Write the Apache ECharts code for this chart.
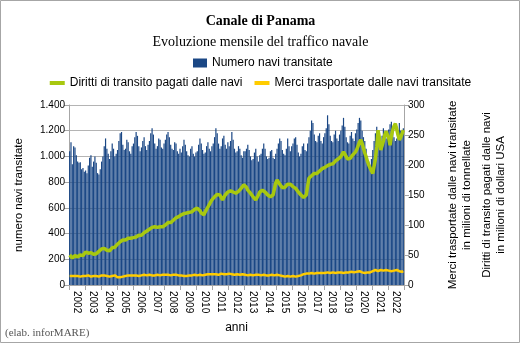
<!DOCTYPE html>
<html><head><meta charset="utf-8">
<script src="https://cdn.jsdelivr.net/npm/echarts@6/dist/echarts.min.js"></script>
<style>html,body{margin:0;padding:0;background:#fff}#c{width:521px;height:345px}</style>
</head><body><div id="c"></div>
<script>
const years = ['2002','2003','2004','2005','2006','2007','2008','2009','2010','2011','2012','2013','2014','2015','2016','2017','2018','2019','2020','2021','2022'];

const ships = [
1040,1110,940,1080,1070,1010,960,950,955,900,910,880,
890,870,930,990,1010,920,960,1000,950,870,860,900,
960,1000,1080,1140,1060,1020,980,1040,1100,1060,1000,1020,
1050,1120,1180,1190,1090,1050,1060,1130,1110,1040,1020,1080,
1100,1150,1190,1160,1080,1040,1070,1120,1150,1080,1050,1090,
1120,1180,1220,1170,1100,1060,1080,1140,1130,1070,1060,1100,
1130,1170,1190,1150,1090,1060,1050,1110,1100,1040,1020,1060,
1030,1080,1130,1090,1040,1010,1000,1060,1080,1020,1000,1030,
1040,1090,1140,1100,1050,1020,1030,1080,1110,1060,1040,1080,
1100,1150,1220,1180,1100,1060,1080,1140,1160,1090,1060,1110,
1080,1120,1190,1130,1060,1030,1040,1080,1060,1010,990,1040,
1040,1060,1090,1050,1000,970,980,1030,1060,1000,960,1010,
1020,1060,1100,1060,1000,980,990,1040,1050,990,980,1020,
1060,1100,1140,1120,1050,1020,1010,1060,1140,1080,1040,1080,
1100,1140,1150,1090,1030,1000,1020,1080,1100,1050,1040,1100,
1150,1200,1280,1260,1170,1120,1110,1160,1180,1120,1100,1150,
1180,1220,1320,1250,1160,1120,1110,1170,1200,1140,1120,1170,
1200,1240,1300,1230,1150,1110,1100,1160,1190,1140,1120,1180,
1210,1260,1300,1280,1200,1150,1120,1060,1000,960,930,980,
1050,1120,1180,1230,1200,1140,1110,1160,1220,1180,1140,1190,
1210,1250,1270,1220,1150,1120,1140,1200,1260,1200,1160,1220
];

const tolls = [
50,48,45,47,49,46,47,48,50,47,49,52,
55,54,53,52,54,53,51,50,52,54,56,58,
60,62,61,59,58,60,57,58,62,64,63,66,
68,70,72,74,75,76,75,77,78,76,78,80,
79,81,80,82,83,84,83,85,87,88,90,92,
93,95,96,94,97,95,96,98,97,99,97,98,
100,102,104,105,104,106,108,110,112,113,114,116,
117,118,119,121,120,122,121,123,122,124,126,127,
128,126,124,120,118,117,122,126,130,134,138,142,
145,147,149,151,153,150,148,142,146,150,153,155,
158,157,156,155,154,153,153,156,158,161,164,167,
166,163,158,155,153,150,147,144,142,145,150,155,
156,158,157,155,152,150,148,147,146,150,160,170,
175,172,168,165,162,161,163,166,168,170,168,166,
164,162,161,158,155,152,150,148,146,144,150,165,
178,180,182,184,186,188,186,189,190,192,194,195,
196,198,199,200,201,203,202,205,207,208,210,212,
214,218,222,218,214,210,208,211,214,217,220,222,
226,232,238,242,236,228,220,214,206,200,195,190,
186,198,210,230,258,245,225,232,240,250,256,258,
245,233,248,258,265,269,260,250,242,246,252,258
];

const cargo = [
15,14,15,16,15,14,15,15,14,15,15,16,
15,15,16,15,14,15,15,16,15,15,14,15,
16,15,16,16,15,15,14,14,15,15,16,15,
13,12,13,14,14,15,15,16,16,15,16,16,
16,17,16,16,15,16,16,17,17,16,16,17,
17,17,16,17,16,16,17,17,16,16,17,17,
17,18,17,17,16,16,17,16,17,17,16,17,
16,16,15,16,15,15,16,16,16,17,17,16,
16,17,17,16,16,17,17,18,18,17,18,18,
18,19,18,18,17,18,19,18,18,19,18,18,
19,19,18,18,17,17,18,18,17,18,18,17,
17,17,16,16,17,17,16,16,17,17,17,16,
16,17,17,16,16,15,16,17,17,17,16,17,
17,17,16,16,15,15,14,14,15,15,14,15,
15,15,14,14,15,16,16,17,18,18,19,19,
19,20,20,19,19,20,20,19,20,20,20,21,
20,21,21,20,20,20,21,21,20,21,21,21,
21,21,20,21,21,20,21,21,22,22,21,21,
22,22,23,22,21,20,20,20,21,21,21,22,
23,24,25,24,23,24,25,25,24,24,25,24,
24,24,23,23,24,25,25,24,23,23,22,23
];

const leftTicks = [0,200,400,600,800,1000,1200,1400];
const rightTicks = [0,50,100,150,200,250,300];

const months = [];
years.forEach(y => { for (let m = 1; m <= 12; m++) months.push(y + '-' + m); });

const SANS = 'Liberation Sans, Arial, sans-serif';
const SERIF = 'Liberation Serif, Times New Roman, serif';
const AXIS_GRAY = '#a6a6a6';
const fmtIt = v => String(v).replace(/\B(?=(\d{3})+(?!\d))/g, '.');

const chart = echarts.init(document.getElementById('c'), null, {renderer: 'canvas'});
chart.setOption({
  animation: false,
  backgroundColor: '#fff',
  textStyle: {fontFamily: SANS},
  title: [
    {text: 'Canale di Panama', left: 'center', top: 14, padding: 0,
     textStyle: {fontFamily: SERIF, fontWeight: 'bold', fontSize: 14, color: '#000'}},
    {text: 'Evoluzione mensile del traffico navale', left: 'center', top: 35, padding: 0,
     textStyle: {fontFamily: SERIF, fontWeight: 'normal', fontSize: 14, color: '#000'}},
    {text: '(elab. inforMARE)', left: 5, top: 328, padding: 0,
     textStyle: {fontFamily: SERIF, fontWeight: 'normal', fontSize: 11, color: '#555'}}
  ],
  legend: [
    {data: [{name: 'Numero navi transitate', icon: 'rect'}], left: 193, top: 57, padding: 0,
     itemWidth: 14, itemHeight: 9, textStyle: {fontSize: 12, color: '#000', fontFamily: SANS}},
    {data: [{name: 'Diritti di transito pagati dalle navi', icon: 'rect'},
            {name: 'Merci trasportate dalle navi transitate', icon: 'rect'}],
     left: 'center', top: 77, padding: 0, itemGap: 12,
     itemWidth: 15, itemHeight: 4, textStyle: {fontSize: 12, color: '#000', fontFamily: SANS}}
  ],
  grid: {left: 69, right: 117, top: 105, bottom: 60, containLabel: false},
  xAxis: [
    {type: 'category', data: months, position: 'bottom', boundaryGap: true,
     axisLine: {lineStyle: {color: AXIS_GRAY}}, axisTick: {show: false},
     axisLabel: {show: false}, splitLine: {show: false}},
    {type: 'category', data: years, position: 'bottom', boundaryGap: true,
     axisLine: {show: false},
     axisTick: {show: true, interval: 0, length: 5, lineStyle: {color: AXIS_GRAY}},
     axisLabel: {interval: 0, rotate: -90, fontSize: 10, color: '#000', margin: 6},
     name: 'anni', nameLocation: 'middle', nameGap: 37,
     nameTextStyle: {fontSize: 12, color: '#000'}}
  ],
  yAxis: [
    {type: 'value', min: 0, max: 1400, interval: 200, position: 'left',
     axisLine: {show: true, lineStyle: {color: AXIS_GRAY}},
     axisTick: {show: true, length: 5, lineStyle: {color: AXIS_GRAY}},
     axisLabel: {fontSize: 10, color: '#000', margin: 4, formatter: fmtIt},
     splitLine: {show: true, lineStyle: {color: '#b4b4b4'}},
     name: 'numero navi transitate', nameLocation: 'middle', nameGap: 44, nameRotate: 90,
     nameTextStyle: {fontSize: 11.5, color: '#000'}},
    {type: 'value', min: 0, max: 300, interval: 50, position: 'right',
     axisLine: {show: true, lineStyle: {color: AXIS_GRAY}},
     axisTick: {show: true, length: 5, lineStyle: {color: AXIS_GRAY}},
     axisLabel: {fontSize: 10, color: '#000', margin: 4},
     splitLine: {show: false},
     name: 'Merci trasportate dalle navi transitate\nin milioni di tonnellate',
     nameLocation: 'middle', nameGap: 42, nameRotate: 90,
     nameTextStyle: {fontSize: 11.5, color: '#000', lineHeight: 14, align: 'center'}},
    {type: 'value', min: 0, max: 300, interval: 50, position: 'right',
     axisLine: {show: false}, axisTick: {show: false}, axisLabel: {show: false},
     splitLine: {show: false},
     name: 'Diritti di transito pagati dalle navi\nin milioni di dollari USA',
     nameLocation: 'middle', nameGap: 76, nameRotate: 90,
     nameTextStyle: {fontSize: 11.5, color: '#000', lineHeight: 14, align: 'center'}}
  ],
  series: [
    {name: 'Numero navi transitate', type: 'bar', data: ships, xAxisIndex: 0, yAxisIndex: 0,
     barCategoryGap: '10%', itemStyle: {color: '#1a4785'}},
    {name: 'Diritti di transito pagati dalle navi', type: 'line', data: tolls, xAxisIndex: 0, yAxisIndex: 2,
     symbol: 'none', lineStyle: {color: '#a8c80f', width: 3.5}, itemStyle: {color: '#a8c80f'}},
    {name: 'Merci trasportate dalle navi transitate', type: 'line', data: cargo, xAxisIndex: 0, yAxisIndex: 1,
     symbol: 'none', lineStyle: {color: '#ffcc00', width: 2.5}, itemStyle: {color: '#ffcc00'}}
  ],
  graphic: [
    {type: 'rect', silent: true, shape: {x: 0.5, y: 0.5, width: 519, height: 342},
     style: {fill: null, stroke: '#a6a6a6', lineWidth: 1}}
  ]
});
</script>
</body></html>
